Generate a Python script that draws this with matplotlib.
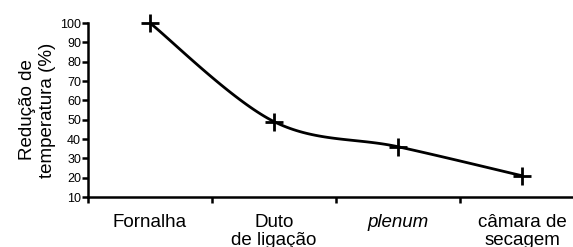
import numpy as np
import matplotlib
matplotlib.use('Agg')
import matplotlib.pyplot as plt

plt.rcParams['font.family'] = ['Liberation Sans', 'DejaVu Sans']

# data
categories = ['Fornalha', 'Duto\nde ligação', 'plenum', 'câmara de\nsecagem']
reducao = [100, 49, 36, 21]
y_ticks = [10, 20, 30, 40, 50, 60, 70, 80, 90, 100]


def smooth_curve(xs, ys, n=40):
    ''' Catmull-Rom spline through the points, like the smoothed line of a spreadsheet '''
    px = [xs[0]] + list(xs) + [xs[-1]]
    py = [ys[0]] + list(ys) + [ys[-1]]
    out_x, out_y = [], []
    for i in range(1, len(px) - 2):
        t = np.linspace(0, 1, n)
        for p, out in ((px, out_x), (py, out_y)):
            p0, p1, p2, p3 = p[i - 1], p[i], p[i + 1], p[i + 2]
            out.extend(0.5 * ((2 * p1) + (-p0 + p2) * t
                              + (2 * p0 - 5 * p1 + 4 * p2 - p3) * t ** 2
                              + (-p0 + 3 * p1 - 3 * p2 + p3) * t ** 3))
    return out_x, out_y


fig = plt.figure(figsize=(5.73, 2.47), dpi=100)
ax = fig.add_axes([88 / 573, 50 / 247, 496 / 573, 174 / 247])

pos = np.arange(1, len(categories) + 1)
cx, cy = smooth_curve(pos, reducao)
ax.plot(cx, cy, color='black', lw=2, solid_capstyle='butt', clip_on=False)
ax.plot(pos, reducao, ls='none', marker='+', ms=13, mew=2, color='black', clip_on=False)

ax.set_xlim(0.5, len(categories) + 0.5)
ax.set_ylim(10, 100)

for s in ('top', 'right'):
    ax.spines[s].set_visible(False)
for s in ('left', 'bottom'):
    ax.spines[s].set_linewidth(1.8)

ax.set_yticks(y_ticks)
ax.tick_params(axis='y', direction='out', length=4, width=1.8, labelsize=9, pad=1)

# tick marks between categories, labels centred on categories
ax.set_xticks(pos - 0.5)
ax.set_xticklabels([])
ax.tick_params(axis='x', which='major', direction='out', length=4, width=1.8)
ax.set_xticks(pos, minor=True)
ax.set_xticklabels(categories, minor=True, fontsize=13.5, linespacing=1.1)
ax.tick_params(axis='x', which='minor', length=0, pad=12)
for lab in ax.get_xticklabels(minor=True):
    if lab.get_text() == 'plenum':
        lab.set_fontstyle('italic')

ax.set_ylabel('Redução de\ntemperatura (%)', fontsize=13.5, linespacing=1.25, labelpad=3)

fig.savefig('out.png', dpi=100)
